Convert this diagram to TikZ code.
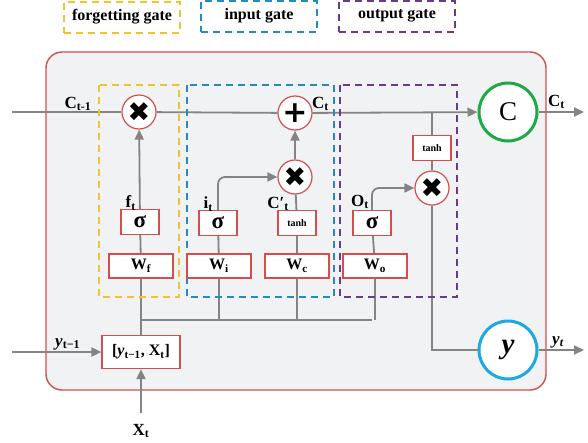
\documentclass[tikz,border=0pt]{standalone}
\usepackage{fontspec}
\setmainfont{Liberation Serif}
\newfontfamily\symfont{DejaVu Sans}
\usetikzlibrary{arrows.meta}

\definecolor{frame}{RGB}{212,78,78}
\definecolor{panel}{RGB}{241,242,244}
\definecolor{wire}{RGB}{132,132,132}
\definecolor{yel}{RGB}{240,195,50}
\definecolor{blu}{RGB}{40,138,190}
\definecolor{pur}{RGB}{108,58,138}
\definecolor{grn}{RGB}{30,168,70}
\definecolor{cya}{RGB}{28,168,225}

\newcommand{\fs}[1]{\fontsize{#1}{#1}\selectfont}

\tikzset{
  legend/.style={draw=#1,line width=2pt,dash pattern=on 7pt off 5pt,
    minimum width=116pt,minimum height=31pt,inner sep=0pt,font=\fs{16}\bfseries},
  gate/.style={draw=#1,line width=2pt,dash pattern=on 7pt off 5pt},
  wbox/.style={draw=frame,line width=1.2pt,fill=white,minimum width=64pt,
    minimum height=24pt,inner sep=0pt,font=\fs{16}\bfseries},
  gbox/.style={draw=frame,line width=1.2pt,fill=white,minimum width=38pt,
    minimum height=25pt,inner sep=0pt,font=\fs{23}\bfseries},
  op/.style={circle,draw=frame,line width=1.2pt,fill=white,minimum size=34pt,
    inner sep=0pt,font=\symfont\fs{27}\bfseries},
  big/.style={circle,draw=#1,line width=3pt,fill=white,minimum size=58pt,inner sep=0pt},
  flow/.style={draw=wire,line width=1.8pt},
  arr/.style={flow,-{Triangle[length=10pt,width=9pt]}},
  lbl/.style={font=\fs{17}\bfseries,inner sep=1pt}
}

\begin{document}
\begin{tikzpicture}[x=1pt,y=-1pt]
\useasboundingbox (0,0) rectangle (588,442);

\node[legend=yel] (lf) at (122,17) {forgetting gate};
\node[legend=blu] (li) at (259,16) {input gate};
\node[legend=pur] (lo) at (397,16) {output gate};

\fill[panel,draw=frame,line width=1.4pt,rounded corners=16pt] (46,52) rectangle (546,390);

\coordinate (cin) at (12,112);
\coordinate (tap) at (432,112);
\coordinate (cout) at (584,112);
\coordinate (yin) at (12,352);
\coordinate (xin) at (141,413);
\coordinate (yout) at (584,350);
\coordinate (b1) at (141,320);
\coordinate (b4) at (372,320);

\node[op] (xf) at (139,112) {✖};
\node[op,font=\symfont\fs{30}\bfseries] (add) at (295,113) {+};
\node[op] (xi) at (295,177) {✖};
\node[op] (xo) at (432,188) {✖};
\node[big=grn,font=\fs{27}] (cc) at (508,112) {C};
\node[big=cya,font=\fs{29}\bfseries\itshape] (yc) at (508,350) {y};

\node[gbox] (sf) at (140,222) {σ};
\node[gbox] (si) at (218,223) {σ};
\node[gbox,font=\fs{10}\bfseries] (tc) at (297,223) {tanh};
\node[gbox] (so) at (372,223) {σ};
\node[gbox,font=\fs{10}\bfseries] (to) at (432,148) {tanh};

\node[wbox] (wf) at (141,266) {W\textsubscript{f}};
\node[wbox] (wi) at (219,266) {W\textsubscript{i}};
\node[wbox] (wc) at (297,266) {W\textsubscript{c}};
\node[wbox] (wo) at (375,266) {W\textsubscript{o}};

\node[draw=frame,line width=1.2pt,fill=white,minimum width=78pt,minimum height=33pt,
  inner sep=0pt,font=\fs{16}\bfseries] (cat) at (141,352)
  {[\textit{y}\textsubscript{t−1}, X\textsubscript{t}]};

\draw[flow] (cin) -- (xf);
\draw[flow] (xf) -- (add);
\draw[arr] (add) -- (cc);
\draw[arr] (cc) -- (cout);
\draw[flow] (tap) -- (to);
\draw[flow] (to) -- (xo);
\draw[flow] (xo) |- (yc);
\draw[arr] (yc) -- (yout);

\draw[flow] (b1) -- (b4);
\draw[flow] (cat) -- (wf);
\foreach \w in {wi,wc,wo}
  \draw[flow] (\w) -- (\w |- b1);

\draw[flow] (wf) -- (sf);
\draw[flow] (wi) -- (si);
\draw[flow] (wc) -- (tc);
\draw[flow] (wo) -- (so);
\draw[arr] (sf) -- (xf);
\draw[arr,rounded corners=7pt] (si) |- (xi);
\draw[flow] (tc) -- (xi);
\draw[arr] (xi) -- (add);
\draw[arr,rounded corners=7pt] (so) |- (xo);

\draw[arr] (yin) -- (cat);
\draw[arr] (xin) -- (cat);

\draw[gate=yel] (99,85) rectangle (179,297);
\draw[gate=blu] (187,85) rectangle (334,297);
\draw[gate=pur] (340,85) rectangle (457,297);

% redraw boxes over the dashes
\foreach \n/\t in {wf/W\textsubscript{f},wi/W\textsubscript{i},wc/W\textsubscript{c},wo/W\textsubscript{o}}
  \node[wbox] at (\n) {\t};

\node[lbl,anchor=south] (lc1) at (78,112) {C\textsubscript{t-1}};
\node[lbl,anchor=east] (lft) at (137,203) {f\textsubscript{t}};
\node[lbl,anchor=east] (lit) at (214,204) {i\textsubscript{t}};
\node[lbl,anchor=east] (lct) at (290,204) {C′\textsubscript{t}};
\node[lbl,anchor=south west] (lc) at (311,112) {C\textsubscript{t}};
\node[lbl,anchor=east] (lot) at (370,202) {O\textsubscript{t}};
\node[lbl,anchor=south west] (lcout) at (547,110) {C\textsubscript{t}};
\node[lbl,anchor=south west] (lyt) at (551,349) {\textit{y\textsubscript{t}}};
\node[lbl,anchor=south west] (lyin) at (54,351) {\textit{y}\textsubscript{t−1}};
\node[lbl] (lxt) at (141,431) {X\textsubscript{t}};
\end{tikzpicture}
\end{document}
